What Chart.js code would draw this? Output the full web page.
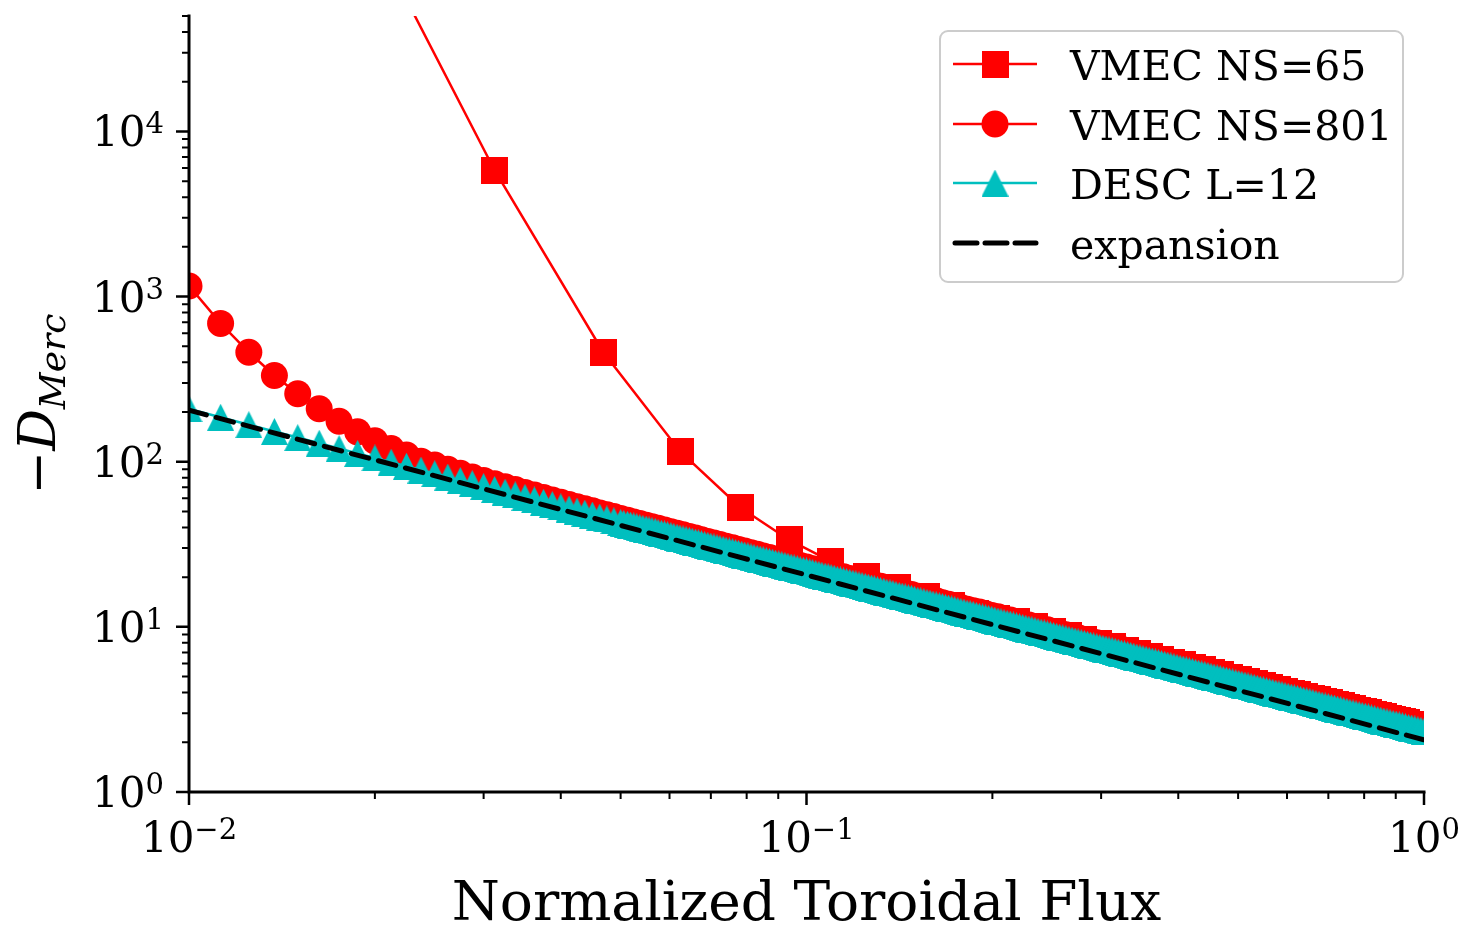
<!DOCTYPE html>
<html>
<head>
<meta charset="utf-8">
<script src="https://cdn.jsdelivr.net/npm/chart.js@4.4.1/dist/chart.umd.min.js"></script>
<style>
  html, body { margin: 0; background: #fff; }
</style>
</head>
<body>
<canvas id="dmercChart" width="1463" height="926"></canvas>
<script>
// normalized toroidal flux for VMEC NS=801 (the dense part is thinned out)
const fluxFine = [
  0.01, 0.01125, 0.0125, 0.01375, 0.015, 0.01625, 0.0175, 0.01875, 0.02, 0.02125,
  0.0225, 0.02375, 0.025, 0.02625, 0.0275, 0.02875, 0.03, 0.03125, 0.0325, 0.03375,
  0.035, 0.03625, 0.0375, 0.03875, 0.04, 0.04125, 0.0425, 0.04375, 0.045, 0.04625,
  0.0475, 0.04875, 0.05,
  0.0513, 0.0525, 0.0537, 0.0550, 0.0562, 0.0575, 0.0589, 0.0603, 0.0617, 0.0631,
  0.0646, 0.0661, 0.0676, 0.0692, 0.0708, 0.0724, 0.0741, 0.0759, 0.0776, 0.0794,
  0.0813, 0.0832, 0.0851, 0.0871, 0.0891, 0.0912, 0.0933, 0.0955, 0.0977, 0.1,
  0.1023, 0.1047, 0.1072, 0.1096, 0.1122, 0.1148, 0.1175, 0.1202, 0.1230, 0.1259,
  0.1288, 0.1318, 0.1349, 0.1380, 0.1413, 0.1445, 0.1479, 0.1514, 0.1549, 0.1585,
  0.1622, 0.1660, 0.1698, 0.1738, 0.1778, 0.1820, 0.1862, 0.1905, 0.1950, 0.1995,
  0.2042, 0.2089, 0.2138, 0.2188, 0.2239, 0.2291, 0.2344, 0.2399, 0.2455, 0.2512,
  0.2570, 0.2630, 0.2692, 0.2754, 0.2818, 0.2884, 0.2951, 0.3020, 0.3090, 0.3162,
  0.3236, 0.3311, 0.3388, 0.3467, 0.3548, 0.3631, 0.3715, 0.3802, 0.3890, 0.3981,
  0.4074, 0.4169, 0.4266, 0.4365, 0.4467, 0.4571, 0.4677, 0.4786, 0.4898, 0.5012,
  0.5129, 0.5248, 0.5370, 0.5495, 0.5623, 0.5754, 0.5888, 0.6026, 0.6166, 0.6310,
  0.6457, 0.6607, 0.6761, 0.6918, 0.7079, 0.7244, 0.7413, 0.7586, 0.7762, 0.7943,
  0.8128, 0.8318, 0.8511, 0.8710, 0.8913, 0.9120, 0.9333, 0.9550, 0.9772, 1.0
];

const vmec801 = [
  1160, 688, 460, 333, 258, 209.5, 175.8, 151.6, 133.8, 120.3,
  109.7, 100.8, 95.5, 89.9, 85.0, 80.7, 76.9, 73.5, 70.6, 67.8,
  65.2, 62.8, 60.7, 58.7, 56.8, 55.0, 53.4, 51.9, 50.4, 49.0,
  47.8, 46.6, 45.3,
  44.2, 43.2, 42.2, 41.3, 40.4, 39.5, 38.6, 37.7, 36.9, 36.1,
  35.3, 34.5, 33.7, 32.9, 32.2, 31.5, 30.8, 30.1, 29.4, 28.8,
  28.1, 27.5, 26.9, 26.3, 25.7, 25.1, 24.6, 24.0, 23.5, 23.0,
  22.5, 22.0, 21.5, 21.0, 20.5, 20.1, 19.6, 19.2, 18.8, 18.4,
  18.0, 17.6, 17.2, 16.8, 16.4, 16.1, 15.7, 15.3, 15.0, 14.7,
  14.4, 14.0, 13.7, 13.4, 13.1, 12.8, 12.5, 12.3, 12.0, 11.7,
  11.5, 11.2, 11.0, 10.7, 10.5, 10.26, 10.03, 9.81, 9.59, 9.38,
  9.17, 8.97, 8.77, 8.58, 8.39, 8.20, 8.02, 7.84, 7.67, 7.50,
  7.33, 7.17, 7.01, 6.86, 6.71, 6.56, 6.42, 6.27, 6.13, 6.00,
  5.87, 5.74, 5.61, 5.49, 5.37, 5.25, 5.13, 5.02, 4.91, 4.80,
  4.70, 4.59, 4.49, 4.39, 4.29, 4.20, 4.11, 4.02, 3.93, 3.84,
  3.76, 3.68, 3.59, 3.51, 3.44, 3.36, 3.29, 3.22, 3.14, 3.08,
  3.01, 2.94, 2.88, 2.81, 2.75, 2.69, 2.63, 2.57, 2.52, 2.46
];

// normalized toroidal flux for DESC L=12 (denser, the triangles form a solid band)
const fluxDesc = [
  0.01, 0.01125, 0.0125, 0.01375, 0.015, 0.01625, 0.0175, 0.01875, 0.02, 0.02125,
  0.0225, 0.02375, 0.025, 0.02625, 0.0275, 0.02875, 0.03, 0.03125, 0.0325, 0.03375,
  0.035, 0.03625, 0.0375, 0.03875, 0.04, 0.04125, 0.0425, 0.04375, 0.045, 0.04625,
  0.0475, 0.04875, 0.05,
  0.05058, 0.0513, 0.05188, 0.0525, 0.05309, 0.0537, 0.05432, 0.0550, 0.05559, 0.0562,
  0.05688, 0.0575, 0.05821, 0.0589, 0.05956, 0.0603, 0.06096, 0.0617, 0.06237, 0.0631,
  0.06383, 0.0646, 0.06532, 0.0661, 0.06683, 0.0676, 0.06839, 0.0692, 0.06998, 0.0708,
  0.07161, 0.0724, 0.07328, 0.0741, 0.07499, 0.0759, 0.07674, 0.0776, 0.07852, 0.0794,
  0.08035, 0.0813, 0.08222, 0.0832, 0.08414, 0.0851, 0.0861, 0.0871, 0.08811, 0.0891,
  0.09016, 0.0912, 0.09226, 0.0933, 0.09441, 0.0955, 0.09661, 0.0977, 0.09885, 0.1,
  0.1012, 0.1023, 0.1035, 0.1047, 0.1059, 0.1072, 0.1084, 0.1096, 0.1109, 0.1122,
  0.1135, 0.1148, 0.1161, 0.1175, 0.1189, 0.1202, 0.1216, 0.1230, 0.1245, 0.1259,
  0.1274, 0.1288, 0.1303, 0.1318, 0.1334, 0.1349, 0.1365, 0.1380, 0.1396, 0.1413,
  0.1429, 0.1445, 0.1462, 0.1479, 0.1496, 0.1514, 0.1531, 0.1549, 0.1567, 0.1585,
  0.1603, 0.1622, 0.1641, 0.1660, 0.1679, 0.1698, 0.1718, 0.1738, 0.1758, 0.1778,
  0.1799, 0.1820, 0.1841, 0.1862, 0.1884, 0.1905, 0.1928, 0.1950, 0.1972, 0.1995,
  0.2018, 0.2042, 0.2065, 0.2089, 0.2113, 0.2138, 0.2163, 0.2188, 0.2213, 0.2239,
  0.2265, 0.2291, 0.2317, 0.2344, 0.2371, 0.2399, 0.2427, 0.2455, 0.2483, 0.2512,
  0.2541, 0.2570, 0.2600, 0.2630, 0.2661, 0.2692, 0.2723, 0.2754, 0.2786, 0.2818,
  0.2851, 0.2884, 0.2917, 0.2951, 0.2985, 0.3020, 0.3055, 0.3090, 0.3126, 0.3162,
  0.3199, 0.3236, 0.3273, 0.3311, 0.3349, 0.3388, 0.3427, 0.3467, 0.3507, 0.3548,
  0.3589, 0.3631, 0.3673, 0.3715, 0.3758, 0.3802, 0.3846, 0.3890, 0.3935, 0.3981,
  0.4027, 0.4074, 0.4121, 0.4169, 0.4217, 0.4266, 0.4315, 0.4365, 0.4416, 0.4467,
  0.4519, 0.4571, 0.4624, 0.4677, 0.4731, 0.4786, 0.4841, 0.4898, 0.4955, 0.5012,
  0.5070, 0.5129, 0.5188, 0.5248, 0.5309, 0.5370, 0.5432, 0.5495, 0.5559, 0.5623,
  0.5688, 0.5754, 0.5821, 0.5888, 0.5956, 0.6026, 0.6096, 0.6166, 0.6237, 0.6310,
  0.6383, 0.6457, 0.6532, 0.6607, 0.6683, 0.6761, 0.6839, 0.6918, 0.6998, 0.7079,
  0.7161, 0.7244, 0.7328, 0.7413, 0.7499, 0.7586, 0.7674, 0.7762, 0.7852, 0.7943,
  0.8035, 0.8128, 0.8222, 0.8318, 0.8414, 0.8511, 0.8610, 0.8710, 0.8811, 0.8913,
  0.9016, 0.9120, 0.9226, 0.9333, 0.9441, 0.9550, 0.9661, 0.9772, 0.9885, 1.0
];

const descL12 = [
  209, 186, 167.6, 152.5, 140, 129.4, 120.2, 112.3, 105.4, 99.3,
  93.9, 89.0, 84.6, 80.7, 77.0, 73.7, 70.7, 67.9, 65.4, 63.0,
  60.8, 58.7, 56.8, 55.0, 53.3, 51.7, 50.2, 48.8, 47.5, 46.2,
  45.0, 43.9, 42.8,
  42.3, 41.8, 41.3, 40.85, 40.4, 39.9, 39.5, 39.1, 38.6, 38.2,
  37.8, 37.3, 36.9, 36.5, 36.1, 35.7, 35.3, 34.9, 34.5, 34.1,
  33.75, 33.4, 33.0, 32.6, 32.3, 31.9, 31.5, 31.2, 30.8, 30.5,
  30.15, 29.8, 29.46, 29.1, 28.82, 28.5, 28.17, 27.9, 27.54, 27.2,
  26.94, 26.6, 26.33, 26.0, 25.74, 25.5, 25.18, 24.9, 24.62, 24.3,
  24.07, 23.8, 23.53, 23.3, 23.02, 22.75, 22.5, 22.2, 22.0, 21.8,
  21.51, 21.3, 21.04, 20.8, 20.57, 20.3, 20.11, 19.9, 19.66, 19.4,
  19.23, 19.0, 18.8, 18.6, 18.39, 18.2, 17.97, 17.8, 17.57, 17.4,
  17.18, 17.0, 16.8, 16.6, 16.43, 16.2, 16.06, 15.9, 15.71, 15.5,
  15.36, 15.2, 15.02, 14.9, 14.69, 14.5, 14.36, 14.2, 14.04, 13.9,
  13.73, 13.6, 13.43, 13.3, 13.13, 13.0, 12.84, 12.7, 12.55, 12.4,
  12.27, 12.1, 12.01, 11.9, 11.74, 11.6, 11.48, 11.35, 11.23, 11.1,
  10.98, 10.85, 10.73, 10.6, 10.49, 10.4, 10.27, 10.15, 10.04, 9.92,
  9.81, 9.70, 9.60, 9.49, 9.38, 9.28, 9.18, 9.07, 8.97, 8.87,
  8.77, 8.68, 8.58, 8.49, 8.39, 8.30, 8.20, 8.11, 8.02, 7.93,
  7.85, 7.76, 7.67, 7.59, 7.50, 7.42, 7.34, 7.26, 7.18, 7.10,
  7.02, 6.94, 6.86, 6.79, 6.71, 6.64, 6.56, 6.49, 6.42, 6.35,
  6.28, 6.21, 6.14, 6.07, 6.00, 5.93, 5.87, 5.80, 5.74, 5.68,
  5.61, 5.55, 5.49, 5.43, 5.37, 5.31, 5.25, 5.19, 5.14, 5.08,
  5.02, 4.97, 4.91, 4.86, 4.80, 4.75, 4.70, 4.64, 4.59, 4.54,
  4.49, 4.44, 4.39, 4.34, 4.30, 4.25, 4.20, 4.16, 4.11, 4.06,
  4.02, 3.97, 3.93, 3.89, 3.84, 3.80, 3.76, 3.72, 3.68, 3.64,
  3.60, 3.56, 3.52, 3.48, 3.44, 3.40, 3.36, 3.32, 3.29, 3.25,
  3.22, 3.18, 3.15, 3.11, 3.08, 3.04, 3.01, 2.975, 2.94, 2.91,
  2.88, 2.85, 2.81, 2.78, 2.75, 2.72, 2.69, 2.66, 2.63, 2.60,
  2.58, 2.55, 2.52, 2.49, 2.46, 2.44, 2.41, 2.38, 2.36, 2.33
];

// VMEC NS=65 surfaces
const flux65 = [
  0.015625, 0.03125, 0.046875, 0.0625, 0.078125, 0.09375, 0.109375, 0.125, 0.140625, 0.15625,
  0.171875, 0.1875, 0.203125, 0.21875, 0.234375, 0.25, 0.265625, 0.28125, 0.296875, 0.3125,
  0.328125, 0.34375, 0.359375, 0.375, 0.390625, 0.40625, 0.421875, 0.4375, 0.453125, 0.46875,
  0.484375, 0.5, 0.515625, 0.53125, 0.546875, 0.5625, 0.578125, 0.59375, 0.609375, 0.625,
  0.640625, 0.65625, 0.671875, 0.6875, 0.703125, 0.71875, 0.734375, 0.75, 0.765625, 0.78125,
  0.796875, 0.8125, 0.828125, 0.84375, 0.859375, 0.875, 0.890625, 0.90625, 0.921875, 0.9375,
  0.953125, 0.96875, 0.984375, 1.0
];
const vmec65 = [
  880000, 5820, 460, 115, 52.8, 33.6, 25.0, 20.3, 17.3, 15.2,
  13.5, 12.1, 11.2, 10.72, 10.03, 9.42, 8.89, 8.41, 7.98, 7.59,
  7.23, 6.92, 6.62, 6.36, 6.11, 5.89, 5.67, 5.48, 5.30, 5.12,
  4.96, 4.81, 4.67, 4.54, 4.41, 4.30, 4.18, 4.07, 3.97, 3.88,
  3.79, 3.70, 3.61, 3.54, 3.46, 3.39, 3.32, 3.25, 3.19, 3.12,
  3.07, 3.01, 2.96, 2.90, 2.85, 2.80, 2.76, 2.71, 2.66, 2.62,
  2.58, 2.54, 2.50, 2.46
];

const fluxExpansion = [0.01, 1];
const expansion = [205, 2.07];

const seriesNames = ['VMEC NS=65', 'VMEC NS=801', 'DESC L=12', 'expansion'];
const xTickValues = [0.01, 0.1, 1];
const xTickExponents = ['\u22122', '\u22121', '0'];
const yTickValues = [1, 10, 100, 1000, 10000];
const yTickExponents = ['0', '1', '2', '3', '4'];

const RED = '#ff0000';
const CYAN = '#00bfbf';
const SERIF = '"DejaVu Serif", "Liberation Serif", serif';

const pairs = (xs, ys) => xs.map((x, i) => ({ x, y: ys[i] }));

// matplotlib-like markers (square and "^" triangle are as wide as they are tall)
function markerCanvas(shape, size, color) {
  const c = document.createElement('canvas');
  c.width = size; c.height = size;
  const g = c.getContext('2d');
  g.fillStyle = color;
  g.beginPath();
  if (shape === 'triangle') {
    g.moveTo(size / 2, 0); g.lineTo(size, size); g.lineTo(0, size); g.closePath();
  } else {
    g.rect(0, 0, size, size);
  }
  g.fill();
  return c;
}
const squareMark = markerCanvas('square', 27, RED);
const triangleMark = markerCanvas('triangle', 27, CYAN);

// minor ticks for the log axes
const xMinor = [];
[0.01, 0.1].forEach(d => { for (let m = 2; m <= 9; m++) xMinor.push(m * d); });
const yMinor = [];
[1, 10, 100, 1000, 10000].forEach(d => { for (let m = 2; m <= 9; m++) if (m * d <= 5e4) yMinor.push(m * d); });

function powerLabel(ctx, exp, x, baseline, align) {
  ctx.font = '42px ' + SERIF;
  const wb = ctx.measureText('10').width;
  ctx.font = '29px ' + SERIF;
  const we = ctx.measureText(exp).width;
  const left = align === 'right' ? x - wb - we : x - (wb + we) / 2;
  ctx.textAlign = 'left';
  ctx.textBaseline = 'alphabetic';
  ctx.font = '42px ' + SERIF;
  ctx.fillText('10', left, baseline);
  ctx.font = '29px ' + SERIF;
  ctx.fillText(exp, left + wb, baseline - 13);
}

const mplAxes = {
  id: 'mplAxes',
  afterDatasetsDraw(chart) {
    const { ctx, chartArea: a, scales: { x, y } } = chart;
    ctx.save();
    ctx.strokeStyle = '#000';
    ctx.fillStyle = '#000';

    // minor ticks
    ctx.lineWidth = 2;
    ctx.beginPath();
    yMinor.forEach(v => {
      const py = y.getPixelForValue(v);
      ctx.moveTo(a.left, py); ctx.lineTo(a.left - 7, py);
    });
    xMinor.forEach(v => {
      const px = x.getPixelForValue(v);
      ctx.moveTo(px, a.bottom); ctx.lineTo(px, a.bottom + 7);
    });
    ctx.stroke();

    // major ticks
    ctx.lineWidth = 2.5;
    ctx.beginPath();
    yTickValues.forEach(v => {
      const py = y.getPixelForValue(v);
      ctx.moveTo(a.left, py); ctx.lineTo(a.left - 13, py);
    });
    xTickValues.forEach(v => {
      const px = x.getPixelForValue(v);
      ctx.moveTo(px, a.bottom); ctx.lineTo(px, a.bottom + 13);
    });
    ctx.stroke();

    // left and bottom spines
    ctx.lineWidth = 3;
    ctx.lineCap = 'square';
    ctx.beginPath();
    ctx.moveTo(a.left, a.top);
    ctx.lineTo(a.left, a.bottom);
    ctx.lineTo(a.right, a.bottom);
    ctx.stroke();

    // tick labels
    yTickValues.forEach((v, i) => {
      powerLabel(ctx, yTickExponents[i], a.left - 25, y.getPixelForValue(v) + 15, 'right');
    });
    xTickValues.forEach((v, i) => {
      powerLabel(ctx, xTickExponents[i], x.getPixelForValue(v), a.bottom + 60, 'center');
    });

    // axis titles
    ctx.font = '55px ' + SERIF;
    ctx.textAlign = 'center';
    ctx.fillText('Normalized Toroidal Flux', (a.left + a.right) / 2, 920);

    ctx.save();
    ctx.translate(55, (a.top + a.bottom) / 2);
    ctx.rotate(-Math.PI / 2);
    ctx.textAlign = 'left';
    ctx.font = '52px ' + SERIF;
    const wMinus = ctx.measureText('\u2212').width;
    ctx.font = 'italic 52px ' + SERIF;
    const wD = ctx.measureText('D').width;
    ctx.font = 'italic 36px ' + SERIF;
    const wSub = ctx.measureText('Merc').width;
    let tx = -(wMinus + wD + wSub) / 2;
    ctx.font = '52px ' + SERIF;
    ctx.fillText('\u2212', tx, 0);
    tx += wMinus;
    ctx.font = 'italic 52px ' + SERIF;
    ctx.fillText('D', tx, 0);
    tx += wD;
    ctx.font = 'italic 36px ' + SERIF;
    ctx.fillText('Merc', tx, 10);
    ctx.restore();

    ctx.restore();
  },
  afterDraw(chart) {
    const ctx = chart.ctx;
    ctx.save();
    // legend frame
    ctx.beginPath();
    ctx.roundRect(940, 31, 463, 251, 8);
    ctx.fillStyle = 'rgba(255,255,255,0.8)';
    ctx.fill();
    ctx.lineWidth = 2;
    ctx.strokeStyle = '#cccccc';
    ctx.stroke();

    const rows = [64, 124, 183, 243];
    const colors = [RED, RED, CYAN, '#000'];
    rows.forEach((ry, i) => {
      ctx.beginPath();
      ctx.strokeStyle = colors[i];
      if (i === 3) {
        ctx.lineWidth = 5;
        ctx.lineCap = 'round';
        ctx.setLineDash([22, 8]);
        ctx.moveTo(955, ry); ctx.lineTo(1036, ry);
      } else {
        ctx.lineWidth = 2.5;
        ctx.lineCap = 'butt';
        ctx.setLineDash([]);
        ctx.moveTo(953, ry); ctx.lineTo(1037, ry);
      }
      ctx.stroke();
      ctx.setLineDash([]);
      if (i === 0) ctx.drawImage(squareMark, 995 - 13.5, ry - 13.5);
      if (i === 1) {
        ctx.beginPath(); ctx.fillStyle = RED;
        ctx.arc(995, ry, 13.5, 0, Math.PI * 2); ctx.fill();
      }
      if (i === 2) ctx.drawImage(triangleMark, 995 - 13.5, ry - 13.5);
      ctx.fillStyle = '#000';
      ctx.font = '41px ' + SERIF;
      ctx.textAlign = 'left';
      ctx.textBaseline = 'alphabetic';
      ctx.fillText(seriesNames[i], 1070, ry + 15.5);
    });
    ctx.restore();
  }
};

const ctx = document.getElementById('dmercChart').getContext('2d');
new Chart(ctx, {
  type: 'scatter',
  data: {
    datasets: [{
      label: seriesNames[0],
      data: pairs(flux65, vmec65),
      showLine: true,
      borderColor: RED,
      borderWidth: 2.5,
      pointStyle: squareMark,
      pointRadius: 13.5,
      order: 3,
      clip: 0,
    }, {
      label: seriesNames[1],
      data: pairs(fluxFine, vmec801),
      showLine: true,
      borderColor: RED,
      backgroundColor: RED,
      borderWidth: 2.5,
      pointStyle: 'circle',
      pointRadius: 13.5,
      pointBorderWidth: 0,
      order: 2,
      clip: 0,
    }, {
      label: seriesNames[2],
      data: pairs(fluxDesc, descL12),
      showLine: true,
      borderColor: CYAN,
      borderWidth: 2.5,
      pointStyle: triangleMark,
      pointRadius: 13.5,
      order: 1,
      clip: 0,
    }, {
      label: seriesNames[3],
      data: pairs(fluxExpansion, expansion),
      showLine: true,
      borderColor: '#000',
      borderWidth: 5,
      borderDash: [18, 10],
      borderCapStyle: 'round',
      pointRadius: 0,
      order: 0,
      clip: 0,
    }]
  },
  options: {
    responsive: false,
    animation: false,
    devicePixelRatio: 1,
    events: [],
    layout: { padding: { left: 189, right: 39, top: 12, bottom: 134 } },
    scales: {
      x: { type: 'logarithmic', min: 0.01, max: 1, display: false },
      y: { type: 'logarithmic', min: 1, max: 5e4, display: false }
    },
    plugins: {
      legend: { display: false },
      tooltip: { enabled: false }
    }
  },
  plugins: [mplAxes]
});
</script>
</body>
</html>
